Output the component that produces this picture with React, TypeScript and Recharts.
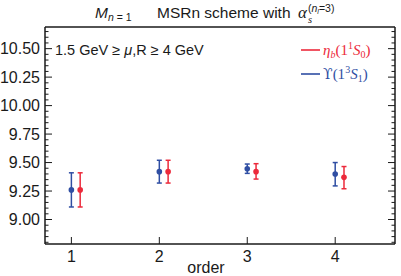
import {
  ScatterChart,
  Scatter,
  XAxis,
  YAxis,
  ErrorBar,
  Customized,
} from 'recharts'

const RED = '#ec2a3b'
const BLUE = '#2f4ea3'
const INK = '#1a1a1a'
const SANS = '"Liberation Sans", Arial, sans-serif'
const SERIF = '"Liberation Serif", "Times New Roman", serif'

// perturbative order and the shift that puts the eta_b points next to the Upsilon ones
const orders = [1, 2, 3, 4]
const etaShift = 0.1

// Upsilon(1^3S_1)
const upsValue = [9.26, 9.42, 9.445, 9.4]
const upsLow = [9.11, 9.32, 9.405, 9.295]
const upsHigh = [9.41, 9.52, 9.487, 9.5]

// eta_b(1^1S_0)
const etaValue = [9.26, 9.42, 9.42, 9.37]
const etaLow = [9.11, 9.32, 9.355, 9.27]
const etaHigh = [9.41, 9.52, 9.49, 9.465]

const xTicks = [1, 2, 3, 4]
const xDomain = [0.7, 4.68]
const yMajor = [9.0, 9.25, 9.5, 9.75, 10.0, 10.25, 10.5]
const yMinorStep = 0.05
const yDomain = [8.785, 10.69]

const yTicks: number[] = []
for (let v = 8.8; v <= 10.66; v += yMinorStep) yTicks.push(Math.round(v * 100) / 100)

const isMajor = (v: number) => yMajor.some((m) => Math.abs(m - v) < 1e-6)

const build = (xs: number[], vals: number[], lo: number[], hi: number[]) =>
  xs.map((x, i) => ({ x, y: vals[i], err: [vals[i] - lo[i], hi[i] - vals[i]] }))

const upsData = build(orders, upsValue, upsLow, upsHigh)
const etaData = build(
  orders.map((o) => o + etaShift),
  etaValue,
  etaLow,
  etaHigh,
)

const GAP = 4

const LeftTick = ({ x, y, payload }: any) => {
  const major = isMajor(payload.value)
  const ax = x + GAP
  return (
    <g>
      <line x1={ax} x2={ax + (major ? 7 : 3.5)} y1={y} y2={y} stroke={INK} strokeWidth={1} />
      {major && (
        <text x={x - 1} y={y + 5.5} textAnchor="end" fontFamily={SANS} fontSize={16} fill={INK}>
          {payload.value.toFixed(2)}
        </text>
      )}
    </g>
  )
}

const RightTick = ({ x, y, payload }: any) => {
  const major = isMajor(payload.value)
  const ax = x - GAP
  return <line x1={ax} x2={ax - (major ? 7 : 3.5)} y1={y} y2={y} stroke={INK} strokeWidth={1} />
}

const BottomTick = ({ x, y, payload }: any) => {
  const ay = y - GAP
  return (
    <g>
      <line x1={x} x2={x} y1={ay} y2={ay - 7} stroke={INK} strokeWidth={1} />
      <text x={x} y={ay + 18} textAnchor="middle" fontFamily={SANS} fontSize={16} fill={INK}>
        {payload.value}
      </text>
    </g>
  )
}

const TopTick = ({ x, y }: any) => {
  const ay = y + GAP
  return <line x1={x} x2={x} y1={ay} y2={ay + 7} stroke={INK} strokeWidth={1} />
}

const Dot = (color: string) => (p: any) => <circle cx={p.cx} cy={p.cy} r={2.8} fill={color} />

const Annotations = () => (
  <g>
    <text x={95} y={18} fontFamily={SANS} fontSize={15.5} fill={INK}>
      <tspan fontStyle="italic">M</tspan>
      <tspan fontSize={10.5} dy={3}>
        <tspan fontStyle="italic">n</tspan> = 1
      </tspan>
    </text>
    <text x={157} y={18} fontFamily={SANS} fontSize={15.5} fill={INK}>
      MSRn scheme with
    </text>
    <text x={298} y={18} fontFamily={SERIF} fontSize={17} fontStyle="italic" fill={INK}>
      α
    </text>
    <text x={308} y={23} fontFamily={SERIF} fontSize={10.5} fontStyle="italic" fill={INK}>
      s
    </text>
    <text x={308} y={12} fontFamily={SANS} fontSize={10.5} fill={INK}>
      (<tspan fontStyle="italic">n</tspan>
      <tspan fontSize={7} dy={2} fontStyle="italic">l</tspan>
      <tspan dy={-2}>=3)</tspan>
    </text>

    <text x={55} y={55} fontFamily={SANS} fontSize={14.5} fill={INK}>
      1.5 GeV ≥ <tspan fontStyle="italic">μ</tspan>,R ≥ 4 GeV
    </text>

    <line x1={301} x2={320} y1={50} y2={50} stroke={RED} strokeWidth={1.6} />
    <text x={323} y={55} fontFamily={SERIF} fontSize={15} fill={RED}>
      <tspan fontStyle="italic">η</tspan>
      <tspan fontSize={10} dy={3} fontStyle="italic">b</tspan>
      <tspan dy={-3}>(1</tspan>
      <tspan fontSize={10} dy={-6}>1</tspan>
      <tspan dy={6} fontStyle="italic">S</tspan>
      <tspan fontSize={10} dy={3}>0</tspan>
      <tspan dy={-3}>)</tspan>
    </text>
    <line x1={301} x2={320} y1={74} y2={74} stroke={BLUE} strokeWidth={1.6} />
    <text x={323} y={79} fontFamily={SERIF} fontSize={15} fill={BLUE}>
      <tspan fontFamily={'"DejaVu Serif", serif'} fontSize={14}>ϒ</tspan>
      <tspan>(1</tspan>
      <tspan fontSize={10} dy={-6}>3</tspan>
      <tspan dy={6} fontStyle="italic">S</tspan>
      <tspan fontSize={10} dy={3}>1</tspan>
      <tspan dy={-3}>)</tspan>
    </text>
  </g>
)

export default function App() {
  return (
    <div style={{ position: 'absolute', left: 0, top: 0, background: '#fff' }}>
      <ScatterChart width={401} height={276} margin={{ top: 0, right: 0, bottom: 0, left: 0 }}>
        <XAxis
          xAxisId="b"
          type="number"
          dataKey="x"
          domain={xDomain}
          ticks={xTicks}
          interval={0}
          allowDataOverflow
          height={32}
          tickSize={0}
          tickMargin={GAP}
          tick={BottomTick}
          axisLine={{ stroke: INK, strokeWidth: 1.5 }}
          label={{
            value: 'order',
            position: 'insideBottom',
            offset: 3,
            dx: -14,
            fontFamily: SANS,
            fontSize: 16,
            fill: INK,
          }}
        />
        <XAxis
          xAxisId="t"
          orientation="top"
          type="number"
          domain={xDomain}
          ticks={xTicks}
          interval={0}
          allowDataOverflow
          height={27}
          tickSize={0}
          tickMargin={GAP}
          tick={TopTick}
          axisLine={{ stroke: INK, strokeWidth: 1.5 }}
        />
        <YAxis
          yAxisId="l"
          type="number"
          dataKey="y"
          domain={yDomain}
          ticks={yTicks}
          interval={0}
          allowDataOverflow
          width={45}
          tickSize={0}
          tickMargin={GAP}
          tick={LeftTick}
          axisLine={{ stroke: INK, strokeWidth: 1.5 }}
        />
        <YAxis
          yAxisId="r"
          orientation="right"
          type="number"
          domain={yDomain}
          ticks={yTicks}
          interval={0}
          allowDataOverflow
          width={6}
          tickSize={0}
          tickMargin={GAP}
          tick={RightTick}
          axisLine={{ stroke: INK, strokeWidth: 1.5 }}
        />
        <Scatter
          name="Upsilon"
          data={upsData}
          xAxisId="b"
          yAxisId="l"
          fill={BLUE}
          shape={Dot(BLUE)}
          isAnimationActive={false}
        >
          <ErrorBar dataKey="err" direction="y" width={2.5} stroke={BLUE} strokeWidth={1.5} />
        </Scatter>
        <Scatter
          name="eta_b"
          data={etaData}
          xAxisId="b"
          yAxisId="l"
          fill={RED}
          shape={Dot(RED)}
          isAnimationActive={false}
        >
          <ErrorBar dataKey="err" direction="y" width={2.5} stroke={RED} strokeWidth={1.5} />
        </Scatter>
        <Customized component={Annotations} />
      </ScatterChart>
    </div>
  )
}
